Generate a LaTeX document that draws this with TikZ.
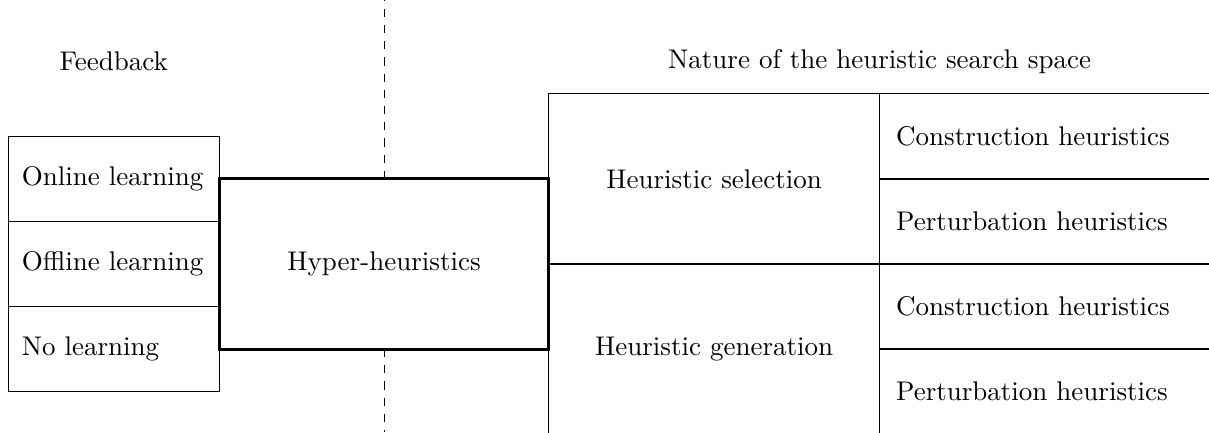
\documentclass[tikz,border=0pt]{standalone}
\usetikzlibrary{positioning}

\tikzset{
	cell/.style={draw, rectangle, outer sep=0pt, inner sep=0pt, minimum height=1.107cm},
	feedbox/.style={cell, minimum width=2.747cm, text width=2.4cm, align=left},
	natbox/.style={cell, minimum width=4.31cm, minimum height=2.214cm},
	kindbox/.style={cell, minimum width=4.33cm, text width=3.9cm, align=left},
	hyperbox/.style={cell, line width=1.1pt, minimum width=4.284cm, minimum height=2.214cm}
}

\begin{document}
\begin{tikzpicture}
				
				% Page frame
				\useasboundingbox (0,0) rectangle (15.74,-5.625);
				
				% Central box
				\node[hyperbox] (hyper) at (5,-3.437) {Hyper-heuristics};
				
				% Dashed divider, outward from the central box
				\coordinate (dtop) at (5,0);
				\coordinate (dbot) at (5,-5.625);
				\draw[dashed] (hyper.north) -- (dtop);
				\draw[dashed] (hyper.south) -- (dbot);
				
				% Feedback column
				\node[feedbox, left=0pt of hyper] (offline) {Offline learning};
				\node[feedbox, above=0pt of offline] (online) {Online learning};
				\node[feedbox, below=0pt of offline] (nolearn) {No learning};
				
				% Search space column
				\node[natbox, anchor=south west] (select) at (hyper.east) {Heuristic selection};
				\node[natbox, anchor=north west] (generate) at (hyper.east) {Heuristic generation};
				
				% Heuristic kinds, cut at the page edge
				\node[kindbox, anchor=north west] (selcon) at (select.north east) {Construction heuristics};
				\node[kindbox, below=0pt of selcon] (selper) {Perturbation heuristics};
				\node[kindbox, below=0pt of selper] (gencon) {Construction heuristics};
				\node[kindbox, below=0pt of gencon] (genper) {Perturbation heuristics};
				
				% Titles
				\node (feedback) at (1.48,-0.8) {Feedback};
				\node (nature) at (select.east |- feedback) {Nature of the heuristic search space};
				
\end{tikzpicture}
\end{document}
